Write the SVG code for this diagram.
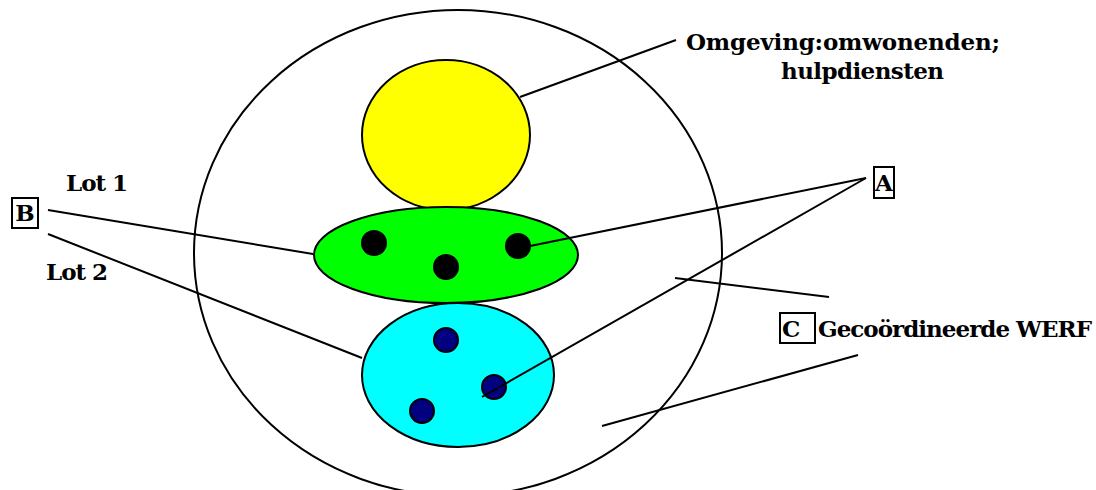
<svg xmlns="http://www.w3.org/2000/svg" width="1096" height="490" viewBox="0 0 1096 490">
<style>
.o{stroke:#000;stroke-width:2}
.l{stroke:#000;stroke-width:2;fill:none}
.t{font-family:"DejaVu Serif","Liberation Serif",serif;font-weight:bold;font-size:23px;fill:#000}
.b{fill:#fff;stroke:#000;stroke-width:2}
</style>
<rect width="1096" height="490" fill="#fff"/>
<g id="werf"><ellipse cx="458" cy="253" rx="264" ry="243" fill="#fff" class="o"/></g>
<g id="omgeving"><ellipse cx="446" cy="135" rx="84" ry="75" fill="#ffff00" class="o"/></g>
<g id="lot1">
<ellipse cx="446" cy="255" rx="132" ry="48" fill="#00ff00" class="o"/>
<circle cx="374" cy="243" r="13" fill="#000"/>
<circle cx="446" cy="267" r="13" fill="#000"/>
<circle cx="518" cy="246" r="13" fill="#000"/>
</g>
<g id="lot2">
<ellipse cx="458" cy="375" rx="96" ry="72" fill="#00ffff" class="o"/>
<circle cx="446" cy="340" r="12" fill="#000080" class="o"/>
<circle cx="494" cy="387" r="12" fill="#000080" class="o"/>
<circle cx="422" cy="411" r="12" fill="#000080" class="o"/>
</g>
<g id="connectors">
<line x1="520" y1="97" x2="676" y2="40" class="l"/>
<line x1="48" y1="210" x2="313" y2="254" class="l"/>
<line x1="48" y1="234" x2="362" y2="358" class="l"/>
<line x1="866" y1="178" x2="530" y2="246" class="l"/>
<line x1="866" y1="178" x2="482" y2="397" class="l"/>
<line x1="675" y1="278" x2="829" y2="297" class="l"/>
<line x1="858" y1="355" x2="602" y2="426" class="l"/>
</g>
<g id="labelB"><rect x="12" y="198" width="26" height="30" class="b"/><text x="25" y="221" class="t" text-anchor="middle">B</text></g>
<g id="labelA"><rect x="874" y="167" width="20" height="31" class="b"/><text x="884" y="191" class="t" text-anchor="middle">A</text></g>
<g id="labelC"><rect x="780" y="313" width="35" height="30" class="b"/><text x="782" y="337" class="t">C</text></g>
<g id="texts">
<text x="66" y="191" class="t" textLength="62">Lot 1</text>
<text x="46" y="280" class="t" textLength="62">Lot 2</text>
<text x="686" y="50" class="t" textLength="314">Omgeving:omwonenden;</text>
<text x="781" y="79" class="t" textLength="163">hulpdiensten</text>
<text x="818" y="337" class="t" textLength="274">Gecoördineerde WERF</text>
</g>
</svg>
